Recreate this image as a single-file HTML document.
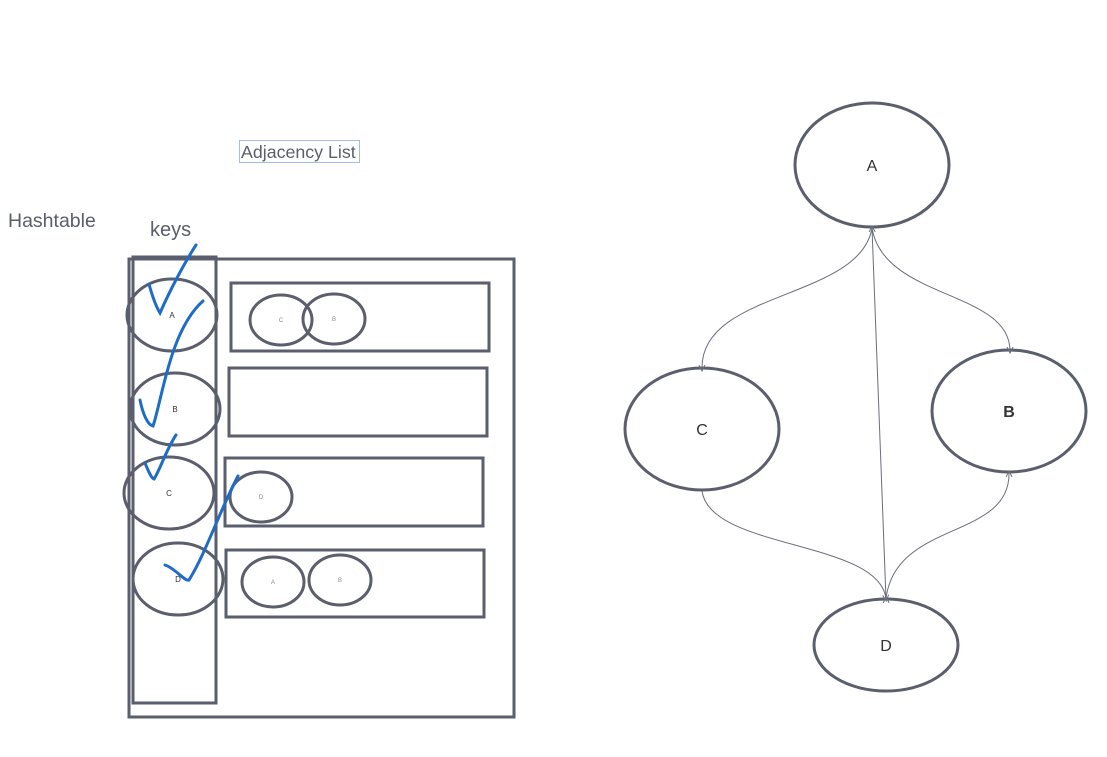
<!DOCTYPE html>
<html><head><meta charset="utf-8"><style>
body{margin:0;background:#fff;}
svg{display:block;font-family:"Liberation Sans",sans-serif;}
</style></head><body>
<svg width="1107" height="757" viewBox="0 0 1107 757">
<defs><marker id="ar" markerWidth="8" markerHeight="8" refX="4" refY="4" orient="auto"><path d="M0,1 L6,4 L0,7" fill="none" stroke="#6b6f7c" stroke-width="1"/></marker></defs>
<g fill="none" stroke="#5a5e6d" stroke-width="3">
<rect x="129" y="259" width="385" height="458"/>
<rect x="133" y="257" width="83" height="446"/>
<ellipse cx="172" cy="315" rx="45" ry="36"/>
<ellipse cx="175" cy="409" rx="45" ry="36"/>
<ellipse cx="169" cy="493" rx="45" ry="36"/>
<ellipse cx="178" cy="579" rx="45" ry="36"/>
<rect x="231" y="283" width="258" height="68"/>
<rect x="229" y="368" width="258" height="68"/>
<rect x="225" y="458" width="258" height="68"/>
<rect x="226" y="550" width="258" height="67"/>
<ellipse cx="281" cy="320" rx="31" ry="25"/>
<ellipse cx="334" cy="319" rx="31" ry="25"/>
<ellipse cx="261" cy="497" rx="31" ry="25"/>
<ellipse cx="273" cy="582" rx="31" ry="25"/>
<ellipse cx="340" cy="580" rx="31" ry="25"/>
<ellipse cx="872" cy="165" rx="77" ry="62"/>
<ellipse cx="702" cy="429" rx="77" ry="61"/>
<ellipse cx="1009" cy="411" rx="77" ry="61"/>
<ellipse cx="886" cy="645" rx="72" ry="46"/>
</g>
<g fill="none" stroke="#6b6f7c" stroke-width="1">
<path d="M872,228 C860,300 700,290 702,369" marker-end="url(#ar)"/>
<path d="M872,228 C884,300 1010,290 1010,351" marker-end="url(#ar)"/>
<path d="M886,599 L872,228" marker-start="url(#ar)" marker-end="url(#ar)"/>
<path d="M702,491 C710,550 880,540 886,599" marker-end="url(#ar)"/>
<path d="M886,599 C895,520 1010,540 1009,473" marker-end="url(#ar)"/>
</g>
<g fill="none" stroke="#1f6cc8" stroke-width="3" stroke-linecap="round">
<path d="M149,284 C152,295 155,305 160,313 C170,290 185,262 196,245"/>
<path d="M140,400 C143,415 148,425 153,426 C162,400 170,330 203,301"/>
<path d="M145,463 C148,470 151,478 154,479 C160,470 166,450 176,435"/>
<path d="M165,565 C175,568 185,582 189,580 C205,555 220,510 238,476"/>
</g>
<g fill="#333" font-size="8" text-anchor="middle">
<text x="172" y="318">A</text><text x="175" y="412">B</text><text x="169" y="496">C</text><text x="178" y="582">D</text>
<text x="281" y="322" font-size="6" fill="#888">C</text><text x="334" y="321" font-size="6" fill="#888">B</text>
<text x="261" y="499" font-size="6" fill="#888">D</text><text x="273" y="584" font-size="6" fill="#888">A</text><text x="340" y="582" font-size="6" fill="#888">B</text>
</g>
<g fill="#333" font-size="16" text-anchor="middle">
<text x="872" y="171">A</text><text x="702" y="435">C</text><text x="1009" y="417" font-weight="bold">B</text><text x="886" y="651">D</text>
</g>
<text x="8" y="227" font-size="19.5" fill="#5a5e6d">Hashtable</text>
<text x="150" y="236" font-size="20" fill="#5a5e6d">keys</text>
<rect x="239.5" y="140.5" width="120" height="22" fill="none" stroke="#9cc0ea" stroke-width="1"/>
<text x="241" y="158" font-size="17.8" fill="#5a5e6d">Adjacency List</text>
</svg>
</body></html>
